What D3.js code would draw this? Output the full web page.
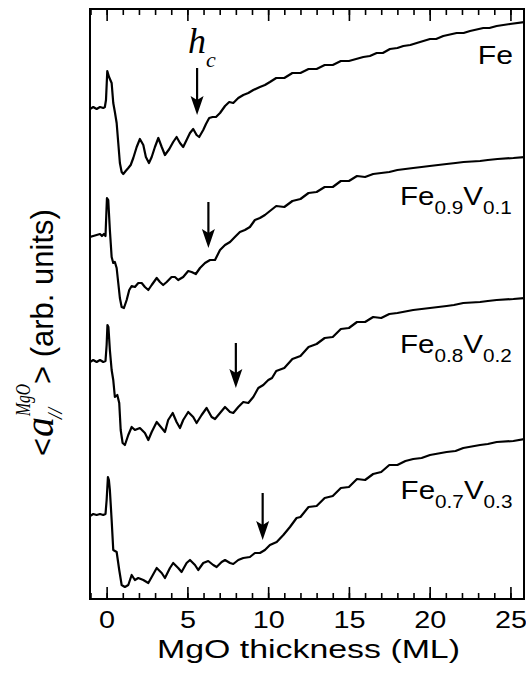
<!DOCTYPE html>
<html><head><meta charset="utf-8">
<script src="https://cdn.jsdelivr.net/npm/d3@7"></script>
<style>body{margin:0;background:#fff}svg{display:block}</style>
</head><body>
<svg id="chart" width="526" height="696"></svg>
<script>
// ---------------- data (MgO thickness in ML, signal in arb. units) ----------------
const majorTicks = [0, 5, 10, 15, 20, 25];
const minorTicks = [-1,0,1,2,3,4,5,6,7,8,9,10,11,12,13,14,15,16,17,18,19,20,21,22,23,24,25];

const seriesFe = [
 [-1.03,4.90],[-0.83,4.92],[-0.62,4.90],[-0.41,4.92],[-0.21,4.91],[-0.11,4.92],
 [-0.04,4.99],[0.04,5.28],[0.15,5.22],[0.31,5.16],[0.41,4.96],[0.51,4.87],[0.62,4.76],
 [0.72,4.56],[0.82,4.36],[0.93,4.27],[1.03,4.25],[1.18,4.28],[1.34,4.31],[1.49,4.34],
 [1.65,4.41],[1.86,4.52],[2.06,4.60],[2.27,4.54],[2.43,4.42],[2.62,4.36],[2.79,4.42],
 [2.99,4.52],[3.20,4.61],[3.41,4.52],[3.61,4.44],[3.88,4.50],[4.12,4.57],[4.33,4.62],
 [4.54,4.56],[4.74,4.52],[4.95,4.59],[5.16,4.66],[5.36,4.70],[5.57,4.64],[5.73,4.62],
 [5.98,4.69],[6.15,4.75],[6.35,4.81],[6.56,4.82],[6.77,4.82],[7.02,4.86],[7.33,4.93],
 [7.59,4.97],[7.84,4.96],[8.15,5.01],[8.46,5.04],[8.77,5.06],[9.08,5.09],[9.49,5.12],
 [9.80,5.14],[10.11,5.17],[10.50,5.21],[11.00,5.21],[11.50,5.26],[12.00,5.26],[12.50,5.30],
 [13.00,5.30],[13.50,5.34],[14.00,5.34],[14.50,5.38],[15.00,5.38],[15.89,5.42],[16.30,5.43],
 [16.72,5.46],[17.10,5.46],[17.54,5.50],[18.00,5.51],[18.37,5.53],[18.80,5.54],[19.20,5.56],
 [20.02,5.60],[20.40,5.60],[20.84,5.63],[21.67,5.66],[22.10,5.66],[22.50,5.68],[23.32,5.71],
 [23.70,5.71],[24.15,5.73],[24.97,5.75],[25.90,5.77]
];
const seriesFe09V01 = [
 [-1.03,3.62],[-0.83,3.63],[-0.62,3.64],[-0.41,3.65],[-0.29,3.63],[-0.17,3.65],[-0.07,3.63],
 [-0.01,3.89],[0.02,4.01],[0.10,3.99],[0.20,3.69],[0.31,3.42],[0.41,3.36],[0.51,3.37],
 [0.62,3.31],[0.72,3.16],[0.82,3.01],[0.93,2.92],[1.07,2.91],[1.24,2.99],[1.40,3.09],
 [1.55,3.13],[1.75,3.12],[1.96,3.16],[2.17,3.16],[2.37,3.12],[2.58,3.09],[2.79,3.14],
 [3.10,3.21],[3.30,3.17],[3.50,3.14],[3.72,3.17],[4.02,3.22],[4.23,3.22],[4.43,3.19],
 [4.74,3.22],[5.05,3.28],[5.26,3.27],[5.52,3.25],[5.78,3.31],[6.09,3.36],[6.40,3.39],
 [6.71,3.39],[7.02,3.49],[7.33,3.54],[7.64,3.57],[7.94,3.62],[8.25,3.67],[8.56,3.69],
 [8.87,3.72],[9.18,3.79],[9.49,3.81],[9.80,3.84],[10.11,3.88],[10.50,3.93],[11.00,3.92],
 [11.50,3.98],[12.00,4.00],[12.50,4.06],[13.00,4.07],[13.50,4.12],[14.00,4.12],[14.50,4.18],
 [15.00,4.18],[15.50,4.23],[16.00,4.22],[16.50,4.25],[17.00,4.26],[17.50,4.27],[18.00,4.29],
 [18.98,4.31],[19.50,4.32],[20.00,4.33],[21.05,4.35],[21.60,4.36],[22.10,4.37],[23.12,4.38],
 [23.60,4.39],[24.20,4.40],[25.18,4.41],[25.90,4.42]
];
const seriesFe08V02 = [
 [-1.03,2.37],[-0.83,2.39],[-0.62,2.37],[-0.41,2.39],[-0.21,2.37],[-0.07,2.38],
 [0.00,2.54],[0.05,2.74],[0.11,2.72],[0.20,2.49],[0.31,2.29],[0.41,2.19],[0.51,2.02],
 [0.66,2.04],[0.78,1.96],[0.87,1.69],[0.99,1.56],[1.13,1.54],[1.34,1.64],[1.55,1.72],
 [1.75,1.69],[2.06,1.71],[2.37,1.66],[2.58,1.59],[2.79,1.67],[3.10,1.77],[3.41,1.71],
 [3.61,1.67],[3.81,1.79],[4.09,1.86],[4.33,1.77],[4.54,1.71],[4.74,1.79],[5.05,1.87],
 [5.36,1.82],[5.57,1.76],[5.88,1.84],[6.19,1.91],[6.50,1.82],[6.71,1.80],[7.02,1.86],
 [7.33,1.92],[7.64,1.87],[7.84,1.86],[8.15,1.92],[8.46,1.97],[8.77,1.96],[9.08,2.02],
 [9.39,2.11],[9.70,2.14],[10.01,2.19],[10.24,2.21],[10.50,2.28],[11.00,2.31],[11.50,2.40],
 [12.00,2.43],[12.50,2.52],[13.00,2.55],[13.50,2.61],[14.00,2.62],[14.50,2.70],[15.00,2.71],
 [15.50,2.77],[16.00,2.77],[16.50,2.82],[17.00,2.81],[17.50,2.85],[18.00,2.86],[18.98,2.89],
 [19.50,2.90],[20.02,2.91],[21.05,2.93],[21.50,2.94],[22.08,2.96],[23.12,2.97],[23.60,2.98],
 [24.15,2.99],[25.18,3.00],[25.90,3.01]
];
const seriesFe07V03 = [
 [-1.03,0.83],[-0.83,0.85],[-0.62,0.84],[-0.41,0.85],[-0.21,0.84],[-0.07,0.85],
 [0.00,0.99],[0.08,1.22],[0.14,1.19],[0.20,1.09],[0.31,0.79],[0.41,0.49],[0.62,0.47],
 [0.78,0.29],[0.93,0.14],[1.13,0.12],[1.34,0.14],[1.55,0.24],[1.75,0.19],[1.96,0.21],
 [2.27,0.19],[2.58,0.16],[2.79,0.22],[3.10,0.31],[3.41,0.26],[3.61,0.21],[3.92,0.31],
 [4.12,0.36],[4.43,0.31],[4.64,0.27],[4.95,0.36],[5.16,0.39],[5.47,0.34],[5.67,0.29],
 [5.98,0.36],[6.29,0.38],[6.60,0.34],[6.81,0.32],[7.12,0.37],[7.33,0.39],[7.64,0.36],
 [7.84,0.35],[8.15,0.39],[8.46,0.41],[8.87,0.42],[9.18,0.46],[9.49,0.46],[9.80,0.49],
 [10.11,0.54],[10.53,0.57],[10.94,0.64],[11.35,0.72],[11.76,0.81],[12.00,0.82],[12.50,0.92],
 [13.00,0.93],[13.50,1.01],[14.00,1.03],[14.50,1.11],[15.00,1.12],[15.50,1.20],[16.00,1.19],
 [16.50,1.25],[17.00,1.27],[17.50,1.34],[18.00,1.34],[18.50,1.38],[18.98,1.40],[19.50,1.41],
 [20.02,1.44],[21.05,1.47],[21.60,1.48],[22.08,1.51],[23.12,1.54],[23.60,1.55],[24.15,1.57],
 [25.18,1.58],[25.90,1.60]
];
const allSeries = [seriesFe, seriesFe09V01, seriesFe08V02, seriesFe07V03];

// critical thickness h_c arrows: x position, arrow top and tip values
const arrowX   = [5.60, 6.30, 8.00, 9.66];
const arrowTop = [5.31, 3.97, 2.56, 1.06];
const arrowTip = [4.84, 3.51, 2.11, 0.59];

// series labels (main text / subscripts)
const seriesLabels = [
  [["Fe", false]],
  [["Fe", false], ["0.9", true], ["V", false], ["0.1", true]],
  [["Fe", false], ["0.8", true], ["V", false], ["0.2", true]],
  [["Fe", false], ["0.7", true], ["V", false], ["0.3", true]]
];
const xTitle = "MgO thickness (ML)";

// ---------------- layout ----------------
const M = {left: 90, right: 524, top: 9, bottom: 599};
const SANS = "'Liberation Sans', Arial, Helvetica, sans-serif";
const SERIF = "'Liberation Serif', 'Times New Roman', Times, serif";

const x = d3.scaleLinear().domain([-1.03, 25.84]).range([M.left, M.right]);
const y = d3.scaleLinear().domain([0, 5.9]).range([M.bottom, M.top]);

const svg = d3.select("#chart");
svg.append("rect").attr("width", 526).attr("height", 696).attr("fill", "#fff");
svg.append("defs").append("clipPath").attr("id", "clip")
  .append("rect").attr("x", M.left).attr("y", M.top)
  .attr("width", M.right - M.left).attr("height", M.bottom - M.top);

// axes: bottom minor + major, top minor + major (ticks inward)
function styleAxis(g) {
  g.select(".domain").remove();
  g.selectAll(".tick line").attr("stroke", "#000").attr("stroke-width", 1.6);
}
svg.append("g").attr("transform", `translate(0,${M.bottom})`)
  .call(d3.axisBottom(x).tickValues(minorTicks).tickSize(-6).tickFormat(""))
  .call(styleAxis);
const gBottom = svg.append("g").attr("transform", `translate(0,${M.bottom})`)
  .call(d3.axisBottom(x).tickValues(majorTicks).tickSize(-12).tickFormat(d3.format("d")))
  .call(styleAxis);
gBottom.selectAll(".tick text")
  .attr("y", 0).attr("dy", 0)
  .attr("transform", "translate(0,29) scale(1.2,1)")
  .attr("fill", "#000")
  .style("font-family", SANS).style("font-size", "24px");
svg.append("g").attr("transform", `translate(0,${M.top})`)
  .call(d3.axisTop(x).tickValues(minorTicks).tickSize(-6).tickFormat(""))
  .call(styleAxis);
svg.append("g").attr("transform", `translate(0,${M.top})`)
  .call(d3.axisTop(x).tickValues(majorTicks).tickSize(-12).tickFormat(""))
  .call(styleAxis);

// plot frame
svg.append("rect").attr("x", M.left).attr("y", M.top)
  .attr("width", M.right - M.left).attr("height", M.bottom - M.top)
  .attr("fill", "none").attr("stroke", "#000").attr("stroke-width", 2);

// curves
const line = d3.line().x(d => x(d[0])).y(d => y(d[1]));
svg.append("g").attr("clip-path", "url(#clip)")
  .selectAll("path").data(allSeries).join("path")
  .attr("d", line).attr("fill", "none").attr("stroke", "#000")
  .attr("stroke-width", 2.2).attr("stroke-linejoin", "round");

// arrows
const gArr = svg.append("g");
arrowX.forEach((ax, i) => {
  const px = x(ax), t = y(arrowTop[i]), b = y(arrowTip[i]);
  gArr.append("line").attr("x1", px).attr("x2", px).attr("y1", t).attr("y2", b - 12)
    .attr("stroke", "#000").attr("stroke-width", 2.2);
  gArr.append("path")
    .attr("d", `M${px},${b} L${px - 6.5},${b - 19} L${px},${b - 15} L${px + 6.5},${b - 19} Z`)
    .attr("fill", "#000");
});

// h_c label
const hc = svg.append("text").attr("x", x(5.03)).attr("y", y(5.46))
  .style("font-family", SERIF).style("font-style", "italic").style("font-size", "36px");
hc.append("tspan").text("h");
hc.append("tspan").attr("dy", 14).style("font-size", "22px").text("c");

// series labels
const labelPos = [
  {x: 25.16, y: 5.35, anchor: "end", sx: 1.14},
  {x: 18.16, y: 3.94, anchor: "start", sx: 1.115},
  {x: 18.16, y: 2.46, anchor: "start", sx: 1.115},
  {x: 18.20, y: 1.00, anchor: "start", sx: 1.115}
];
seriesLabels.forEach((parts, i) => {
  const p = labelPos[i];
  const t = svg.append("text")
    .attr("transform", `translate(${x(p.x)},${y(p.y)}) scale(${p.sx},1)`)
    .attr("text-anchor", p.anchor)
    .style("font-family", SANS).style("font-size", "26.5px");
  let shifted = false;
  parts.forEach(([txt, sub]) => {
    const ts = t.append("tspan").text(txt);
    if (sub) { ts.attr("dy", 9).style("font-size", "18.6px"); shifted = true; }
    else if (shifted) { ts.attr("dy", -9); shifted = false; }
  });
});

// x axis title
svg.append("text").attr("x", 308.5).attr("y", 657.5).attr("text-anchor", "middle")
  .attr("textLength", 303).attr("lengthAdjust", "spacingAndGlyphs")
  .style("font-family", SANS).style("font-size", "25px").text(xTitle);

// y axis title:  <a//^MgO> (arb. units)   rotated
const gy = svg.append("g").attr("transform", "translate(53,0) rotate(-90)");
gy.append("text").attr("x", -456).attr("y", 0)
  .style("font-family", SANS).style("font-size", "31px").text("<");
gy.append("text").attr("x", -437).attr("y", 0)
  .style("font-family", SERIF).style("font-style", "italic").style("font-size", "40px").text("a");
gy.append("text").attr("x", -416).attr("y", -23)
  .attr("textLength", 32).attr("lengthAdjust", "spacingAndGlyphs")
  .style("font-family", SERIF).style("font-style", "italic").style("font-size", "22px").text("MgO");
gy.append("text").attr("x", -419).attr("y", 9)
  .style("font-family", SERIF).style("font-style", "italic").style("font-size", "20px").text("//");
gy.append("text").attr("x", -384).attr("y", 0)
  .style("font-family", SANS).style("font-size", "31px").text("> (arb. units)");
</script>
</body></html>
